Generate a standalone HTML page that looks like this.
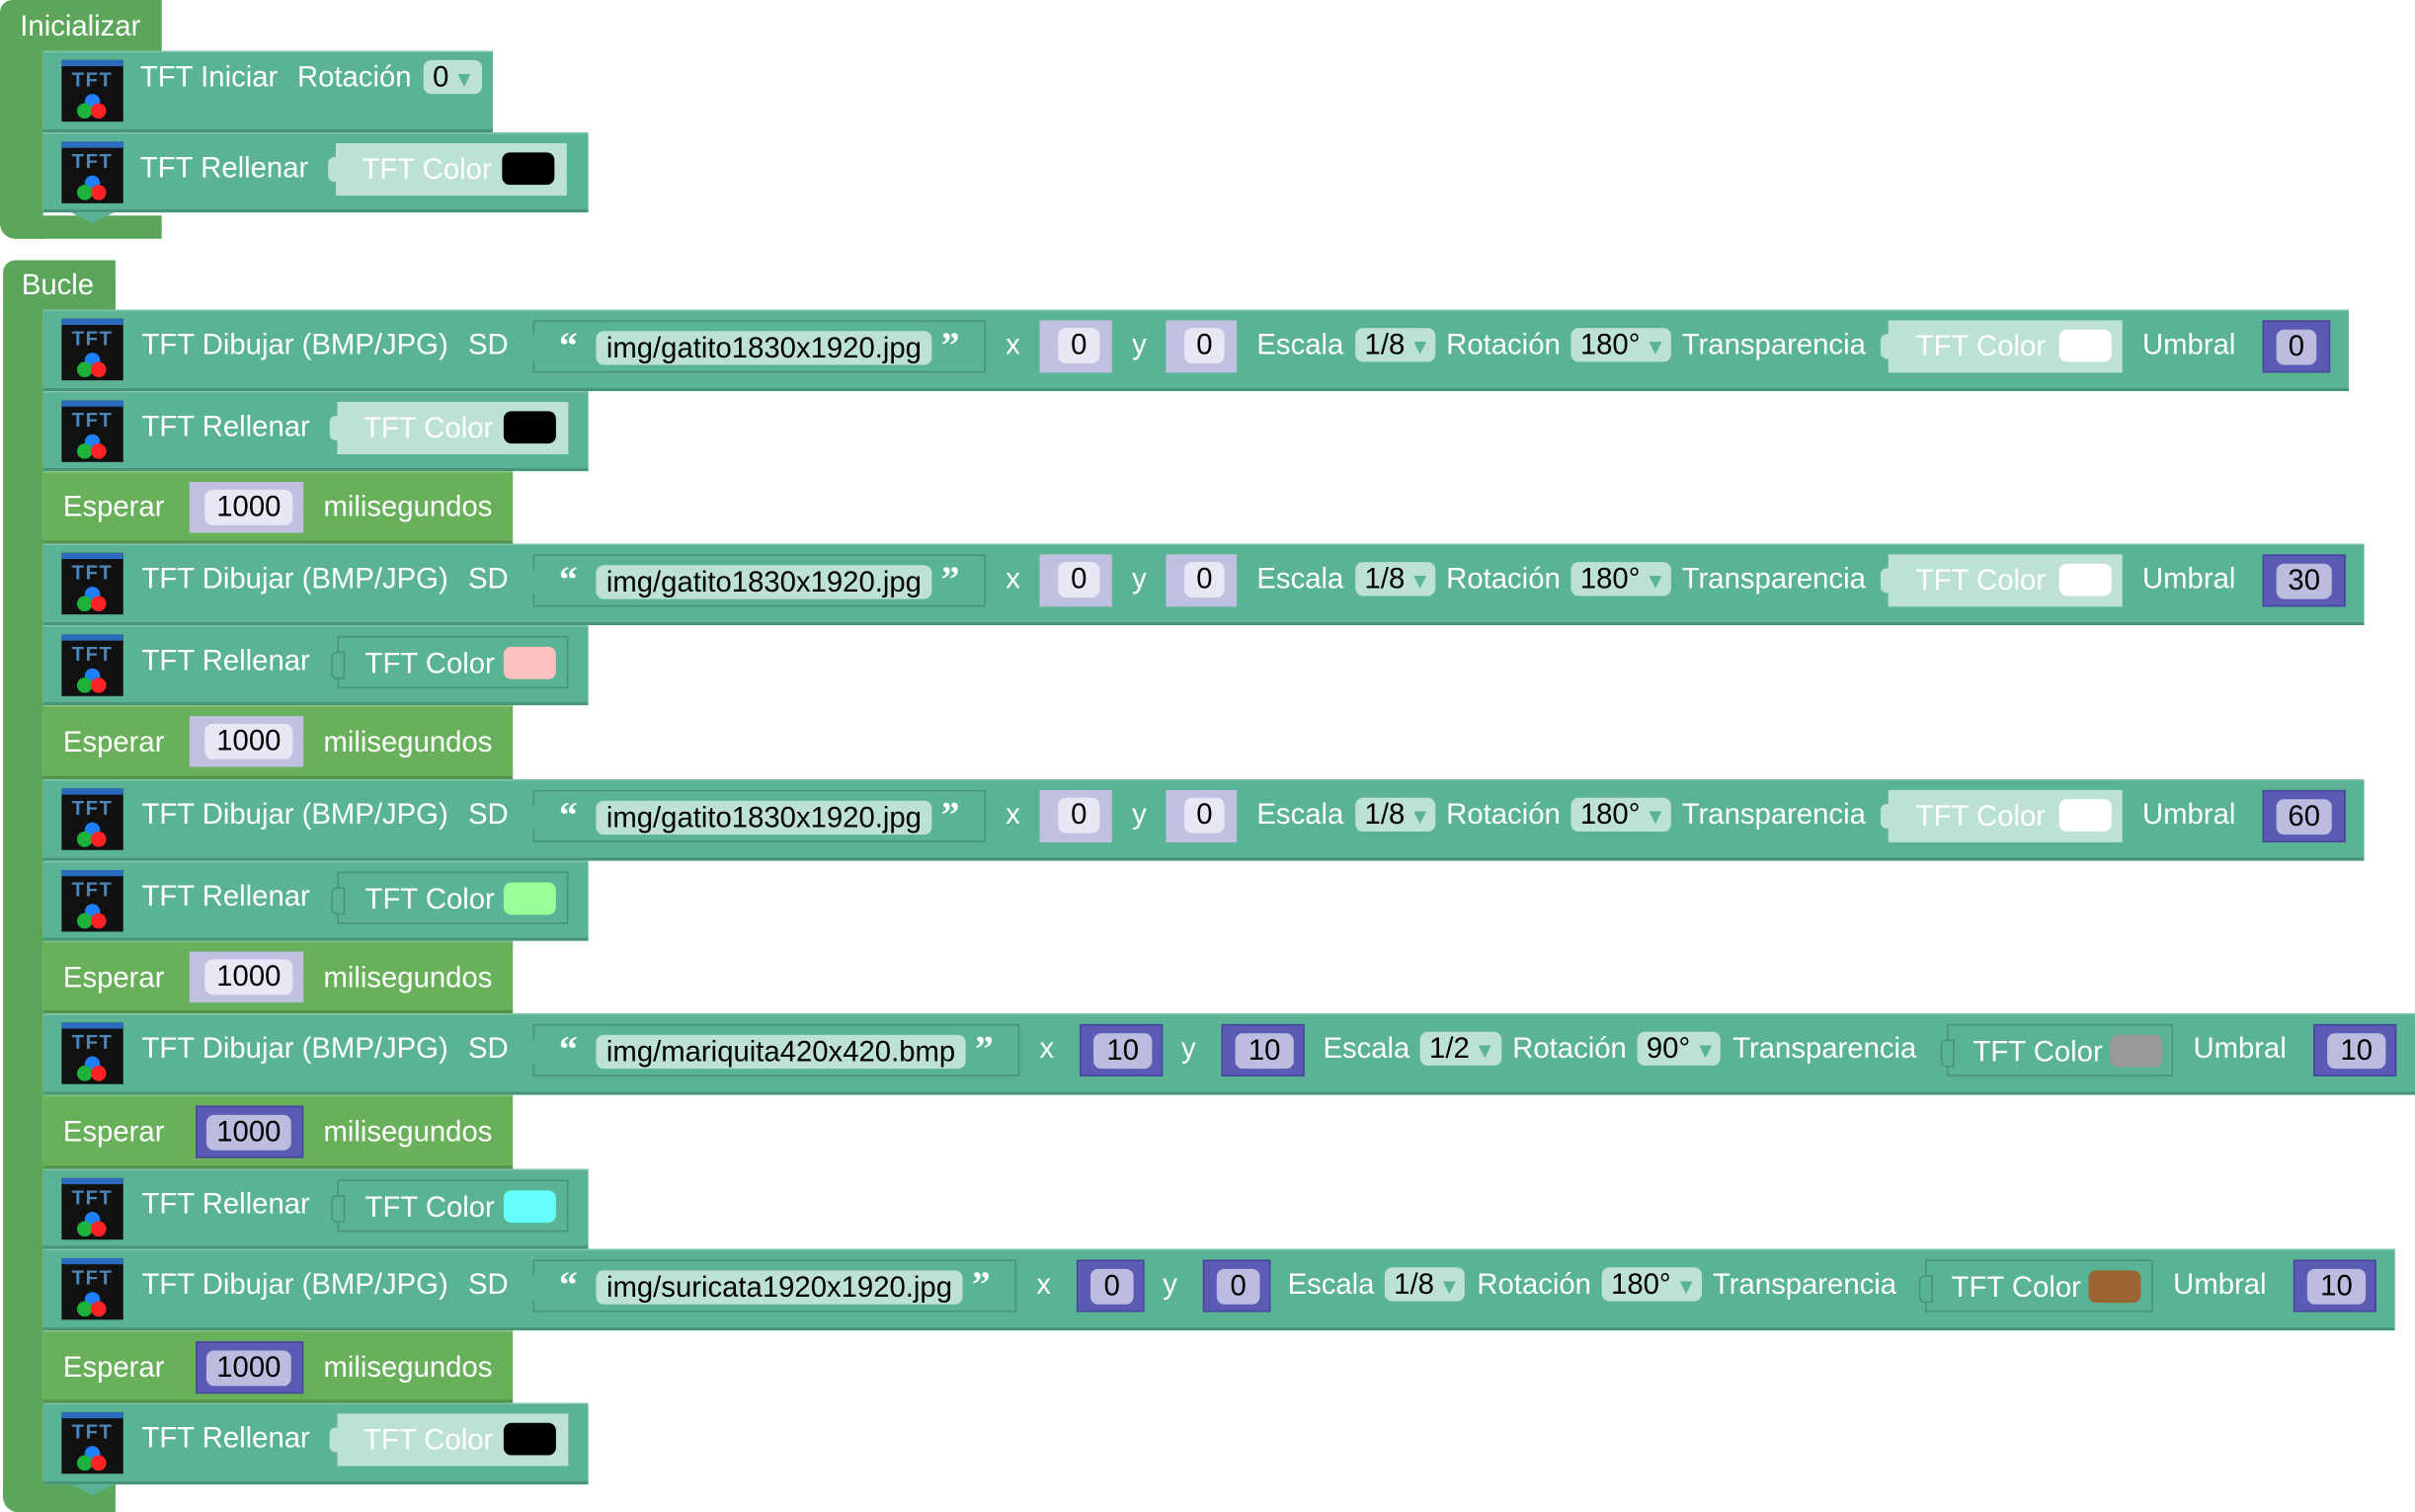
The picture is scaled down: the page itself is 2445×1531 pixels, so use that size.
<!DOCTYPE html>
<html><head><meta charset="utf-8"><style>
html,body{margin:0;padding:0;background:#fff;width:2445px;height:1530px;overflow:hidden}
#w{position:absolute;left:0;top:0;width:1568px;height:982px;transform:scale(1.5593);transform-origin:0 0;font-family:"Liberation Sans",sans-serif}
.a{position:absolute}
.g{background:#5ba65b;position:absolute}
.r{position:absolute;left:28px}
.tl{background:#5ab395;box-shadow:inset 0 -2px #489479,inset 0 1px #7cc5ab}
.gr{background:#69b05b;box-shadow:inset 0 -2px #55934a,inset 0 1px #86c279}
.t{position:absolute;top:12px;color:#fff;font-size:18.8px;line-height:22px;white-space:nowrap}
.ic{position:absolute;left:12px;top:6px;width:40px;height:40px;background:#111;overflow:hidden}
.ic:before{content:"";position:absolute;left:0;top:0;width:40px;height:4px;background:#2a6bc0}
.ic b{position:absolute;left:0;top:5px;width:40px;text-align:center;font:bold 13px "Liberation Sans",sans-serif;color:#4d86b8;letter-spacing:1px}
.ic i{position:absolute;width:10px;height:10px;border-radius:50%}
.sb{position:absolute;top:7px;height:34px;background:#5ab395;border:1px solid #489479;box-sizing:border-box}
.f{position:absolute;top:6px;height:22px;border-radius:5px;background:#bde2d4;color:#000;font-size:18.8px;line-height:22px;text-align:center;white-space:nowrap}
.q{position:absolute;top:2px;color:#fff;font:bold 24px "Liberation Serif",serif;line-height:28px}
.n{position:absolute;top:7px;height:34px;box-sizing:border-box}
.nd{background:#5b5bb5;border:1px solid #46469a}
.nl{background:#c0c0e0}
.n .f{top:5px;height:23px;left:12px;right:8px}
.nd .f{background:#bcbce0}
.nl .f{background:#e8e8f4}
.dd{position:absolute;top:12px;height:22px;border-radius:5px;background:#bde2d4;color:#000;font-size:18.8px;line-height:22px;padding-left:6px;box-sizing:border-box;white-space:nowrap}
.dd s{text-decoration:none;color:#5ab395;font-size:14px;margin-left:3px}
.c{position:absolute;top:7px;height:34px;box-sizing:border-box}
.cl{background:#bde2d4}
.ct{background:#5ab395;border:1px solid #489479}
.c .t{top:6px;left:22px}
.sw{position:absolute;top:6px;width:34px;height:21px;border-radius:5px}
.nt{position:absolute;left:-5px;top:9px;width:7px;height:16px;border-radius:4px 0 0 4px}
.ch{position:absolute;left:18px;width:0;height:0;border-left:14px solid transparent;border-right:14px solid transparent}
</style></head><body><div id="w">

<!-- Inicializar -->
<div class="g" style="left:0;top:0;width:105px;height:33px;border-radius:8px 0 0 0"></div>
<div class="g" style="left:0;top:30px;width:28px;height:125px;border-radius:0 0 0 10px"></div>
<div class="g" style="left:0;top:140px;width:105px;height:15px;border-radius:0 0 0 10px"></div>
<div class="t" style="left:13px;top:6px">Inicializar</div>

<div class="r tl" style="top:33px;width:292px;height:53px">
<div class="ic"><b>TFT</b><i style="left:15px;top:22px;background:#1e7fff"></i><i style="left:10px;top:28px;background:#1cb33a"></i><i style="left:19px;top:28px;background:#ff2323"></i></div>
<div class="t" style="left:63px;top:6px">TFT Iniciar</div>
<div class="t" style="left:165px;top:6px">Rotación</div>
<div class="dd" style="left:247px;top:6px;width:38px">0<s>▼</s></div>
</div>
<div class="r tl" style="top:86px;width:354px;height:52px">
<div class="ic"><b>TFT</b><i style="left:15px;top:22px;background:#1e7fff"></i><i style="left:10px;top:28px;background:#1cb33a"></i><i style="left:19px;top:28px;background:#ff2323"></i></div>
<div class="t" style="left:63px;top:12px">TFT Rellenar</div>
<div class="c cl" style="left:190px;width:150px"><div class="nt" style="background:#bde2d4"></div><div class="t" style="left:17px">TFT Color</div><div class="sw" style="left:108px;background:#000"></div></div>
</div>

<!-- Bucle -->
<div class="g" style="left:2px;top:169px;width:73px;height:33px;border-radius:8px 0 0 0"></div>
<div class="g" style="left:2px;top:198px;width:26px;height:784px;border-radius:0 0 0 10px"></div>
<div class="g" style="left:2px;top:964px;width:73px;height:18px;border-radius:0 0 0 10px"></div>
<div class="t" style="left:14px;top:174px">Bucle</div>

<!-- Row 1 -->
<div class="r tl" style="top:201px;width:1497px;height:53px">
<div class="ic"><b>TFT</b><i style="left:15px;top:22px;background:#1e7fff"></i><i style="left:10px;top:28px;background:#1cb33a"></i><i style="left:19px;top:28px;background:#ff2323"></i></div>
<div class="t" style="left:64px">TFT Dibujar (BMP/JPG)</div><div class="t" style="left:276px">SD</div>
<div class="sb" style="left:318px;width:294px"><div class="nt" style="background:#5ab395;left:-6px"></div><div class="q" style="left:16px">“</div><div class="f" style="left:40px;width:218px">img/gatito1830x1920.jpg</div><div class="q" style="left:264px">”</div></div>
<div class="t" style="left:625px">x</div><div class="n nl" style="left:647px;width:47px"><div class="f">0</div></div>
<div class="t" style="left:707px">y</div><div class="n nl" style="left:729px;width:46px"><div class="f">0</div></div>
<div class="t" style="left:788px">Escala</div><div class="dd" style="left:852px;width:52px">1/8<s>▼</s></div>
<div class="t" style="left:911px">Rotación</div><div class="dd" style="left:992px;width:65px">180°<s>▼</s></div>
<div class="t" style="left:1064px">Transparencia</div>
<div class="c cl" style="left:1198px;width:152px"><div class="nt" style="background:#bde2d4"></div><div class="t" style="left:18px">TFT Color</div><div class="sw" style="left:111px;background:#fff"></div></div>
<div class="t" style="left:1363px">Umbral</div><div class="n nd" style="left:1441px;width:44px"><div class="f" style="left:8px">0</div></div>
</div>

<!-- Row 2 -->
<div class="r tl" style="top:254px;width:354px;height:52px">
<div class="ic"><b>TFT</b><i style="left:15px;top:22px;background:#1e7fff"></i><i style="left:10px;top:28px;background:#1cb33a"></i><i style="left:19px;top:28px;background:#ff2323"></i></div>
<div class="t" style="left:64px">TFT Rellenar</div>
<div class="c cl" style="left:191px;width:150px"><div class="nt" style="background:#bde2d4"></div><div class="t" style="left:17px">TFT Color</div><div class="sw" style="left:108px;background:#000"></div></div>
</div>

<!-- Row 3 -->
<div class="r gr" style="top:306px;width:305px;height:47px">
<div class="t" style="left:13px;top:12px">Esperar</div>
<div class="n nl" style="left:95px;width:74px;height:33px"><div class="f" style="left:10px;right:7px">1000</div></div>
<div class="t" style="left:182px;top:12px">milisegundos</div>
</div>

<!-- Row 4 -->
<div class="r tl" style="top:353px;width:1507px;height:53px">
<div class="ic"><b>TFT</b><i style="left:15px;top:22px;background:#1e7fff"></i><i style="left:10px;top:28px;background:#1cb33a"></i><i style="left:19px;top:28px;background:#ff2323"></i></div>
<div class="t" style="left:64px">TFT Dibujar (BMP/JPG)</div><div class="t" style="left:276px">SD</div>
<div class="sb" style="left:318px;width:294px"><div class="nt" style="background:#5ab395;left:-6px"></div><div class="q" style="left:16px">“</div><div class="f" style="left:40px;width:218px">img/gatito1830x1920.jpg</div><div class="q" style="left:264px">”</div></div>
<div class="t" style="left:625px">x</div><div class="n nl" style="left:647px;width:47px"><div class="f">0</div></div>
<div class="t" style="left:707px">y</div><div class="n nl" style="left:729px;width:46px"><div class="f">0</div></div>
<div class="t" style="left:788px">Escala</div><div class="dd" style="left:852px;width:52px">1/8<s>▼</s></div>
<div class="t" style="left:911px">Rotación</div><div class="dd" style="left:992px;width:65px">180°<s>▼</s></div>
<div class="t" style="left:1064px">Transparencia</div>
<div class="c cl" style="left:1198px;width:152px"><div class="nt" style="background:#bde2d4"></div><div class="t" style="left:18px">TFT Color</div><div class="sw" style="left:111px;background:#fff"></div></div>
<div class="t" style="left:1363px">Umbral</div><div class="n nd" style="left:1441px;width:54px"><div class="f" style="left:8px">30</div></div>
</div>

<!-- Row 5 -->
<div class="r tl" style="top:406px;width:354px;height:52px">
<div class="ic"><b>TFT</b><i style="left:15px;top:22px;background:#1e7fff"></i><i style="left:10px;top:28px;background:#1cb33a"></i><i style="left:19px;top:28px;background:#ff2323"></i></div>
<div class="t" style="left:64px">TFT Rellenar</div>
<div class="c ct" style="left:191px;width:150px"><div class="nt" style="background:#5ab395;border:1px solid #489479"></div><div class="t" style="left:17px">TFT Color</div><div class="sw" style="left:107px;background:#ffc0c0"></div></div>
</div>

<!-- Row 6 -->
<div class="r gr" style="top:458px;width:305px;height:48px">
<div class="t" style="left:13px;top:13px">Esperar</div>
<div class="n nl" style="left:95px;width:74px;height:33px"><div class="f" style="left:10px;right:7px">1000</div></div>
<div class="t" style="left:182px;top:13px">milisegundos</div>
</div>

<!-- Row 7 -->
<div class="r tl" style="top:506px;width:1507px;height:53px">
<div class="ic"><b>TFT</b><i style="left:15px;top:22px;background:#1e7fff"></i><i style="left:10px;top:28px;background:#1cb33a"></i><i style="left:19px;top:28px;background:#ff2323"></i></div>
<div class="t" style="left:64px">TFT Dibujar (BMP/JPG)</div><div class="t" style="left:276px">SD</div>
<div class="sb" style="left:318px;width:294px"><div class="nt" style="background:#5ab395;left:-6px"></div><div class="q" style="left:16px">“</div><div class="f" style="left:40px;width:218px">img/gatito1830x1920.jpg</div><div class="q" style="left:264px">”</div></div>
<div class="t" style="left:625px">x</div><div class="n nl" style="left:647px;width:47px"><div class="f">0</div></div>
<div class="t" style="left:707px">y</div><div class="n nl" style="left:729px;width:46px"><div class="f">0</div></div>
<div class="t" style="left:788px">Escala</div><div class="dd" style="left:852px;width:52px">1/8<s>▼</s></div>
<div class="t" style="left:911px">Rotación</div><div class="dd" style="left:992px;width:65px">180°<s>▼</s></div>
<div class="t" style="left:1064px">Transparencia</div>
<div class="c cl" style="left:1198px;width:152px"><div class="nt" style="background:#bde2d4"></div><div class="t" style="left:18px">TFT Color</div><div class="sw" style="left:111px;background:#fff"></div></div>
<div class="t" style="left:1363px">Umbral</div><div class="n nd" style="left:1441px;width:54px"><div class="f" style="left:8px">60</div></div>
</div>

<!-- Row 8 -->
<div class="r tl" style="top:559px;width:354px;height:52px">
<div class="ic"><b>TFT</b><i style="left:15px;top:22px;background:#1e7fff"></i><i style="left:10px;top:28px;background:#1cb33a"></i><i style="left:19px;top:28px;background:#ff2323"></i></div>
<div class="t" style="left:64px">TFT Rellenar</div>
<div class="c ct" style="left:191px;width:150px"><div class="nt" style="background:#5ab395;border:1px solid #489479"></div><div class="t" style="left:17px">TFT Color</div><div class="sw" style="left:107px;background:#99ff99"></div></div>
</div>

<!-- Row 9 -->
<div class="r gr" style="top:611px;width:305px;height:47px">
<div class="t" style="left:13px;top:13px">Esperar</div>
<div class="n nl" style="left:95px;width:74px;height:33px"><div class="f" style="left:10px;right:7px">1000</div></div>
<div class="t" style="left:182px;top:13px">milisegundos</div>
</div>

<!-- Row 10 -->
<div class="r tl" style="top:658px;width:1540px;height:53px">
<div class="ic"><b>TFT</b><i style="left:15px;top:22px;background:#1e7fff"></i><i style="left:10px;top:28px;background:#1cb33a"></i><i style="left:19px;top:28px;background:#ff2323"></i></div>
<div class="t" style="left:64px">TFT Dibujar (BMP/JPG)</div><div class="t" style="left:276px">SD</div>
<div class="sb" style="left:318px;width:316px"><div class="nt" style="background:#5ab395;left:-6px"></div><div class="q" style="left:16px">“</div><div class="f" style="left:40px;width:240px">img/mariquita420x420.bmp</div><div class="q" style="left:286px">”</div></div>
<div class="t" style="left:647px">x</div><div class="n nd" style="left:673px;width:54px"><div class="f" style="left:8px;right:6px">10</div></div>
<div class="t" style="left:739px">y</div><div class="n nd" style="left:765px;width:54px"><div class="f" style="left:8px;right:6px">10</div></div>
<div class="t" style="left:831px">Escala</div><div class="dd" style="left:894px;width:53px">1/2<s>▼</s></div>
<div class="t" style="left:954px">Rotación</div><div class="dd" style="left:1035px;width:54px">90°<s>▼</s></div>
<div class="t" style="left:1097px">Transparencia</div>
<div class="c ct" style="left:1236px;width:147px"><div class="nt" style="background:#5ab395;border:1px solid #489479"></div><div class="t" style="left:16px">TFT Color</div><div class="sw" style="left:105px;background:#999"></div></div>
<div class="t" style="left:1396px">Umbral</div><div class="n nd" style="left:1474px;width:54px"><div class="f" style="left:8px;right:6px">10</div></div>
</div>

<!-- Row 11 -->
<div class="r gr" style="top:711px;width:305px;height:48px">
<div class="t" style="left:13px;top:13px">Esperar</div>
<div class="n nd" style="left:99px;width:70px;height:34px"><div class="f" style="left:6px;right:7px">1000</div></div>
<div class="t" style="left:182px;top:13px">milisegundos</div>
</div>

<!-- Row 12 -->
<div class="r tl" style="top:759px;width:354px;height:52px">
<div class="ic"><b>TFT</b><i style="left:15px;top:22px;background:#1e7fff"></i><i style="left:10px;top:28px;background:#1cb33a"></i><i style="left:19px;top:28px;background:#ff2323"></i></div>
<div class="t" style="left:64px">TFT Rellenar</div>
<div class="c ct" style="left:191px;width:150px"><div class="nt" style="background:#5ab395;border:1px solid #489479"></div><div class="t" style="left:17px">TFT Color</div><div class="sw" style="left:107px;background:#66ffff"></div></div>
</div>

<!-- Row 13 -->
<div class="r tl" style="top:811px;width:1527px;height:53px">
<div class="ic"><b>TFT</b><i style="left:15px;top:22px;background:#1e7fff"></i><i style="left:10px;top:28px;background:#1cb33a"></i><i style="left:19px;top:28px;background:#ff2323"></i></div>
<div class="t" style="left:64px">TFT Dibujar (BMP/JPG)</div><div class="t" style="left:276px">SD</div>
<div class="sb" style="left:318px;width:314px"><div class="nt" style="background:#5ab395;left:-6px"></div><div class="q" style="left:16px">“</div><div class="f" style="left:40px;width:238px">img/suricata1920x1920.jpg</div><div class="q" style="left:284px">”</div></div>
<div class="t" style="left:645px">x</div><div class="n nd" style="left:671px;width:44px"><div class="f" style="left:8px;right:6px">0</div></div>
<div class="t" style="left:727px">y</div><div class="n nd" style="left:753px;width:44px"><div class="f" style="left:8px;right:6px">0</div></div>
<div class="t" style="left:808px">Escala</div><div class="dd" style="left:871px;width:52px">1/8<s>▼</s></div>
<div class="t" style="left:931px">Rotación</div><div class="dd" style="left:1012px;width:65px">180°<s>▼</s></div>
<div class="t" style="left:1084px">Transparencia</div>
<div class="c ct" style="left:1222px;width:148px"><div class="nt" style="background:#5ab395;border:1px solid #489479"></div><div class="t" style="left:16px">TFT Color</div><div class="sw" style="left:105px;background:#9b6634"></div></div>
<div class="t" style="left:1383px">Umbral</div><div class="n nd" style="left:1461px;width:54px"><div class="f" style="left:8px;right:6px">10</div></div>
</div>

<!-- Row 14 -->
<div class="r gr" style="top:864px;width:305px;height:47px">
<div class="t" style="left:13px;top:13px">Esperar</div>
<div class="n nd" style="left:99px;width:70px;height:34px"><div class="f" style="left:6px;right:7px">1000</div></div>
<div class="t" style="left:182px;top:13px">milisegundos</div>
</div>

<!-- Row 15 -->
<div class="r tl" style="top:911px;width:354px;height:53px">
<div class="ic"><b>TFT</b><i style="left:15px;top:22px;background:#1e7fff"></i><i style="left:10px;top:28px;background:#1cb33a"></i><i style="left:19px;top:28px;background:#ff2323"></i></div>
<div class="t" style="left:64px">TFT Rellenar</div>
<div class="c cl" style="left:191px;width:150px"><div class="nt" style="background:#bde2d4"></div><div class="t" style="left:17px">TFT Color</div><div class="sw" style="left:108px;background:#000"></div></div>
</div>

<!-- notch chevrons -->
<div class="ch a" style="left:46px;top:138px;border-top:7px solid #5ab395"></div>
<div class="ch a" style="left:46px;top:964px;border-top:7px solid #5ab395"></div>

</div></body></html>
